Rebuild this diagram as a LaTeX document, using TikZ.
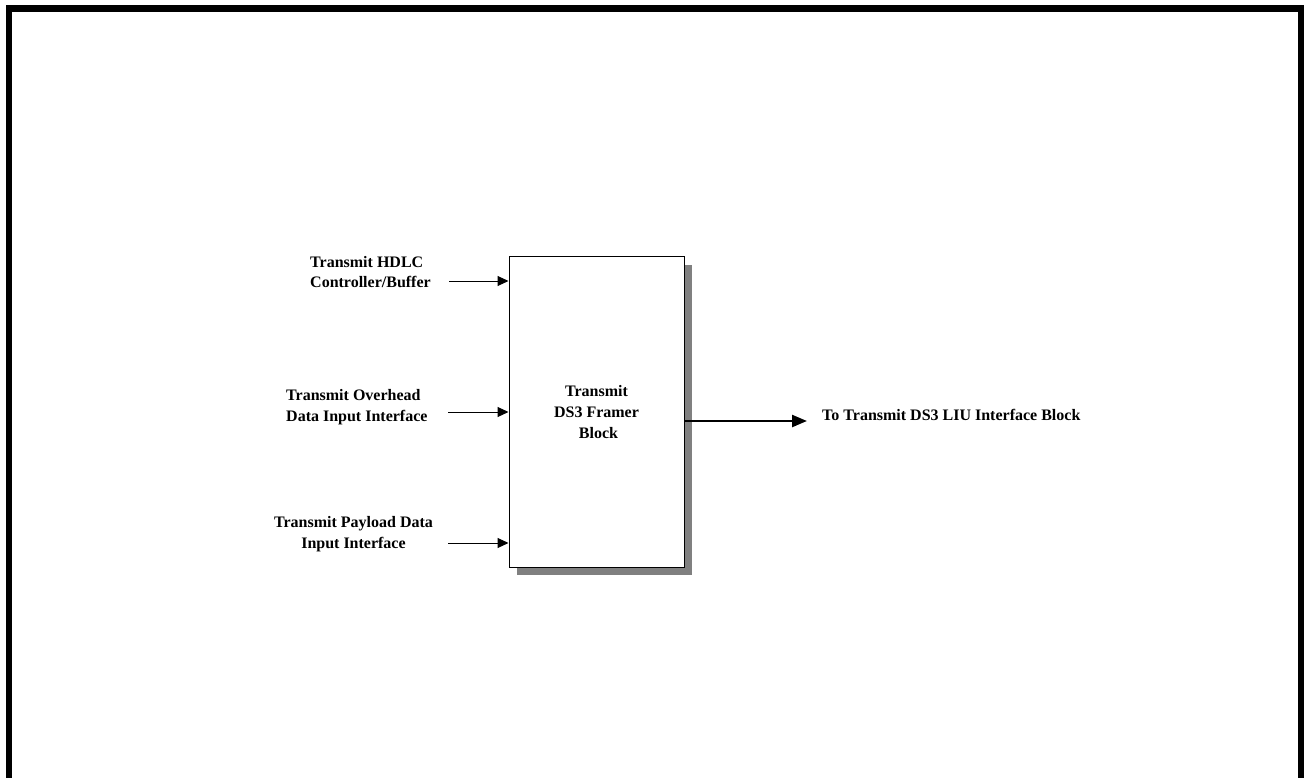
\documentclass[tikz,border=0pt]{standalone}
\usepackage{fontspec}
\setmainfont{Liberation Serif}
\usetikzlibrary{arrows.meta,shadows}

\begin{document}
\begin{tikzpicture}[
        x=1pt, y=-1pt,
        blk/.style={draw, line width=1pt, fill=white, minimum width=175pt,
          minimum height=310pt, align=center, font=\fontsize{16}{21}\selectfont\bfseries,
          drop shadow={shadow xshift=8pt, shadow yshift=-8pt, fill=black!50, opacity=1}},
        lbl/.style={font=\fontsize{16}{20.5}\selectfont\bfseries, inner sep=0pt},
        inarr/.style={-{Triangle[length=11pt, width=10pt]}, line width=1pt},
        outarr/.style={-{Triangle[length=15pt, width=12pt]}, line width=2.4pt},
      ]
        \useasboundingbox (0,0) rectangle (1304,778);

        % outer frame (open at the bottom)
        \draw[line width=6.5pt] (9,778) -- (9,8.5) -- (1301,8.5) -- (1301,778);

        % framer block
        \node[blk] (framer) at (596.5,412) {Transmit\\DS3 Framer\\\ Block};

        % inputs
        \node[lbl, anchor=west, align=left] (hdlc) at (310,272) {Transmit HDLC\\Controller/Buffer};
        \node[lbl, anchor=west, align=left] (ovh) at (286,407) {Transmit Overhead\\Data Input Interface};
        \node[lbl, align=center] (pay) at (353.5,534) {Transmit Payload Data\\Input Interface};
        \coordinate (hdlcin) at (449,281);
        \coordinate (ovhin) at (448,412);
        \coordinate (payin) at (448,543);
        \draw[inarr] (hdlcin) -- (hdlcin -| framer.west);
        \draw[inarr] (ovhin) -- (ovhin -| framer.west);
        \draw[inarr] (payin) -- (payin -| framer.west);

        % output
        \node[lbl, anchor=west] (liu) at (822,415) {To Transmit DS3 LIU Interface Block};
        \coordinate (liuout) at (807,421);
        \draw[outarr] (liuout -| framer.east) -- (liuout);
      \end{tikzpicture}
\end{document}
